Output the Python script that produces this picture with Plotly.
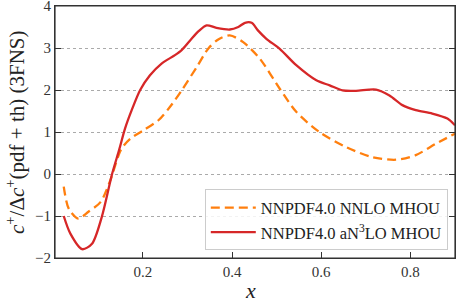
import plotly.graph_objects as go

# NNPDF4.0 NNLO MHOU (orange dashed)
x_nnlo = [0.0226, 0.034, 0.055, 0.078, 0.105, 0.127, 0.151, 0.172, 0.201, 0.235, 0.261, 0.287,
          0.321, 0.347, 0.37, 0.395, 0.425, 0.462, 0.507, 0.544, 0.596, 0.656, 0.715, 0.768,
          0.812, 0.857, 0.9]
y_nnlo = [-0.3, -0.83, -1.06, -0.9, -0.67, -0.15, 0.58, 0.84, 1.04, 1.28, 1.6, 1.99,
          2.55, 2.99, 3.21, 3.3, 3.14, 2.75, 2.03, 1.48, 1.0, 0.64, 0.4, 0.34,
          0.45, 0.72, 0.96]

# NNPDF4.0 aN3LO MHOU (red solid)
x_an3lo = [0.0226, 0.0375, 0.064, 0.086, 0.108, 0.131, 0.147, 0.16, 0.175, 0.194, 0.216, 0.242,
           0.272, 0.287, 0.306, 0.325, 0.343, 0.365, 0.395, 0.414, 0.429, 0.444, 0.458, 0.477,
           0.507, 0.544, 0.589, 0.619, 0.648, 0.678, 0.723, 0.753, 0.782, 0.812, 0.849, 0.883,
           0.9]
y_an3lo = [-1.0, -1.42, -1.79, -1.66, -1.02, 0.0, 0.58, 1.08, 1.52, 2.0, 2.35, 2.63,
           2.83, 2.95, 3.18, 3.4, 3.54, 3.48, 3.44, 3.5, 3.6, 3.6, 3.42, 3.22,
           2.98, 2.59, 2.23, 2.11, 1.99, 1.98, 2.01, 1.87, 1.64, 1.52, 1.44, 1.32,
           1.16]

x_ticks = [0.2, 0.4, 0.6, 0.8]
x_ticktext = ["0.2", "0.4", "0.6", "0.8"]
y_ticks = [-2, -1, 0, 1, 2, 3, 4]
y_ticktext = ["\u22122", "\u22121", "0", "1", "2", "3", "4"]

font = "Liberation Serif, DejaVu Serif, serif"

fig = go.Figure()
fig.add_trace(go.Scatter(
    x=x_nnlo, y=y_nnlo, mode="lines", name="NNPDF4.0 NNLO MHOU",
    line=dict(color="#ff7f0e", width=2.3, dash="9px,5px", shape="spline", smoothing=0.8),
))
fig.add_trace(go.Scatter(
    x=x_an3lo, y=y_an3lo, mode="lines", name="NNPDF4.0 aN<sup>3</sup>LO MHOU",
    line=dict(color="#d62728", width=2.3, shape="spline", smoothing=0.8),
))

fig.update_layout(
    width=457, height=302,
    margin=dict(l=55, r=2, t=6, b=44, autoexpand=False),
    paper_bgcolor="white", plot_bgcolor="white",
    font=dict(family=font, size=15, color="#222"),
    showlegend=True,
    legend=dict(
        x=0.982, y=0.03, xanchor="right", yanchor="bottom",
        bgcolor="rgba(255,255,255,0.85)", bordercolor="#cccccc", borderwidth=1,
        font=dict(family=font, size=16.5, color="#222"),
        itemwidth=45, tracegroupgap=0,
    ),
    xaxis=dict(
        range=[0.003, 0.9], tickvals=x_ticks, ticktext=x_ticktext,
        ticks="inside", ticklen=6, tickcolor="#333", showgrid=False, zeroline=False,
        showline=True, linecolor="#333", linewidth=1.2, mirror=True, automargin=False,
        tickfont=dict(family=font, size=15, color="#333"), ticklabeloverflow="allow",
    ),
    yaxis=dict(
        range=[-2, 4], tickvals=y_ticks, ticktext=y_ticktext,
        ticks="inside", ticklen=6, tickcolor="#333", showgrid=True,
        gridcolor="#aaaaaa", griddash="dot", gridwidth=1, zeroline=False,
        showline=True, linecolor="#333", linewidth=1.2, mirror="ticks", automargin=False,
        tickfont=dict(family=font, size=15, color="#333"), ticklabeloverflow="allow",
    ),
    shapes=[dict(type="rect", xref="paper", yref="paper", x0=0, y0=0, x1=1, y1=1,
                 line=dict(color="#333", width=1.2), layer="above")],
    annotations=[
        dict(text="<i>x</i>", xref="paper", yref="paper", x=0.4875, y=-0.13,
             xanchor="center", yanchor="middle", showarrow=False,
             font=dict(family=font, size=22, color="#222")),
        dict(text="<i>c</i><sup>+</sup>/\u0394<i>c</i><sup>+</sup>(pdf + th) (3FNS)",
             xref="paper", yref="paper", x=-0.1, y=0.5, textangle=-90,
             xanchor="center", yanchor="middle", showarrow=False,
             font=dict(family=font, size=21, color="#222")),
    ],
)

fig.write_html("out.html", config={"displayModeBar": False},
               post_script="document.body.style.margin='0px';")
